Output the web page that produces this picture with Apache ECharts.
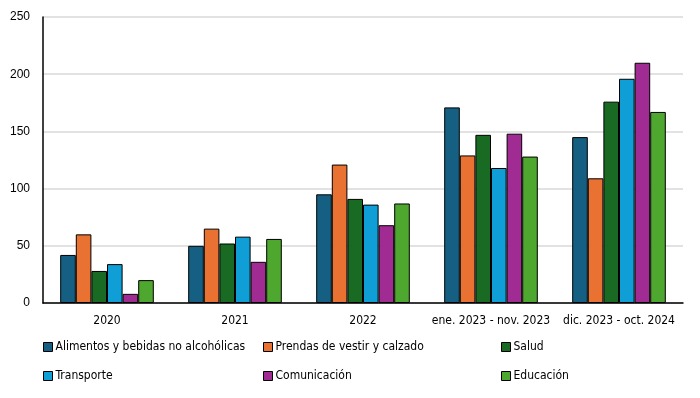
<!DOCTYPE html>
<html lang="es">
<head>
    <meta charset="UTF-8">
    <title>Gasto por categoría</title>
    <script src="https://cdn.jsdelivr.net/npm/echarts@6/dist/echarts.min.js"></script>
    <style>
        html, body { margin: 0; padding: 0; background: #fff; }
        #main { width: 700px; height: 398px; }
    </style>
</head>
<body>
    <div id="main"></div>
    <script>
        var categories = ['2020', '2021', '2022', 'ene. 2023 - nov. 2023', 'dic. 2023 - oct. 2024'];
        var seriesNames = ['Alimentos y bebidas no alcohólicas', 'Prendas de vestir y calzado', 'Salud',
            'Transporte', 'Comunicación', 'Educación'];
        var alimentos = [42, 50, 95, 171, 145];
        var prendas = [60, 65, 121, 129, 109];
        var salud = [28, 52, 91, 147, 176];
        var transporte = [34, 58, 86, 118, 196];
        var comunicacion = [8, 36, 68, 148, 210];
        var educacion = [20, 56, 87, 128, 167];
        var yTicks = [0, 50, 100, 150, 200, 250];

        var values = [alimentos, prendas, salud, transporte, comunicacion, educacion];
        var colors = ['#156082', '#E97132', '#196B24', '#0F9ED5', '#A02B93', '#4EA72E'];
        var narrow = "'Liberation Sans Narrow', 'DejaVu Sans Condensed', sans-serif";

        var chart = echarts.init(document.getElementById('main'));

        var series = seriesNames.map(function (name, i) {
            return {
                name: name,
                type: 'bar',
                data: values[i],
                barWidth: 15.6,
                barGap: '0%',
                itemStyle: { color: colors[i], borderColor: '#000', borderWidth: 1 }
            };
        });

        // one legend per item so they sit in a fixed 3x2 grid
        var legendPos = [[38, 336], [258, 336], [496, 336], [38, 365], [258, 365], [496, 365]];
        var legends = seriesNames.map(function (name, i) {
            return {
                data: [name],
                left: legendPos[i][0],
                top: legendPos[i][1],
                icon: 'rect',
                itemWidth: 9,
                itemHeight: 9,
                itemGap: 3,
                selectedMode: false,
                itemStyle: { borderColor: '#000', borderWidth: 1 },
                textStyle: { fontFamily: narrow, fontSize: 12, color: '#000', padding: [0, 0, 0, -2] }
            };
        });

        var option = {
            animation: false,
            legend: legends,
            grid: { left: 43, right: 17, top: 17, bottom: 95 },
            xAxis: {
                type: 'category',
                data: categories,
                axisLine: { lineStyle: { color: '#000', width: 1.5 } },
                axisTick: { show: false },
                axisLabel: { color: '#000', fontFamily: narrow, fontSize: 12, margin: 12, interval: 0 }
            },
            yAxis: {
                type: 'value',
                min: yTicks[0],
                max: yTicks[yTicks.length - 1],
                interval: 50,
                axisLine: { show: true, lineStyle: { color: '#000', width: 1.5 } },
                axisTick: { show: false },
                axisLabel: { color: '#000', fontFamily: 'Liberation Sans, sans-serif', fontSize: 12, margin: 13 },
                splitLine: { lineStyle: { color: '#d9d9d9', width: 1.5 } }
            },
            series: series
        };

        chart.setOption(option);
    </script>
</body>
</html>
